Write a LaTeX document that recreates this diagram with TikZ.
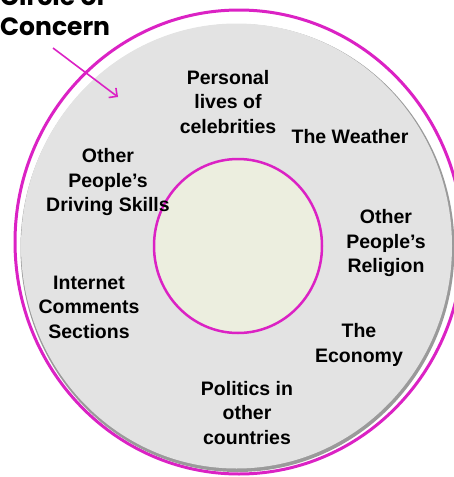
\documentclass[tikz,border=0pt]{standalone}
\usepackage{fontspec}
\setmainfont{Liberation Sans}
\newfontfamily\titlefont{Poppins}
\usetikzlibrary{arrows.meta}

\definecolor{ringpink}{HTML}{DB22C4}
\definecolor{diskgrey}{HTML}{E3E3E3}
\definecolor{diskedge}{HTML}{9A9A9A}
\definecolor{corefill}{HTML}{ECEEDF}

\begin{document}
\begin{tikzpicture}[
        x=1pt, y=-1pt,
        font=\fontsize{19.5}{24.5}\selectfont\bfseries
    ]
    \tikzset{
        topic/.style = {align=center, inner sep=0pt},
        heading/.style = {align=left, inner sep=0pt,
            font=\titlefont\fontsize{25}{30}\selectfont\bfseries},
        pointer/.style = {ringpink, line width=1.6pt,
            -{Straight Barb[length=6pt, width=12pt]}},
    }
    \useasboundingbox (0,0) rectangle (454,477);
    \clip (0,0) rectangle (454,477);
    % outer ring and the grey disk inside it
    \draw[ringpink, line width=3pt] (239,242) ellipse [x radius=224pt, y radius=232pt];
    \fill[diskedge] (237.5,248) ellipse [x radius=217pt, y radius=224pt];
    \fill[diskgrey] (236.5,246) ellipse [x radius=215.5pt, y radius=222.5pt];
    % circle of influence in the middle
    \draw[ringpink, line width=2.5pt, fill=corefill]
        (238,246) ellipse [x radius=84pt, y radius=87pt];
    %
    \node[topic] at (228,102) (celebs) {Personal\\lives of\\celebrities};
    \node[topic] at (350,137) (weather) {The Weather};
    \node[topic] at (108,182) (driving) {Other\\People's\\Driving Skills};
    \node[topic] at (386,243) (religion) {Other\\People's\\Religion};
    \node[topic] at (89,307) (comments) {Internet\\Comments\\Sections};
    \node[topic] at (359,345) (economy) {The\\Economy};
    \node[topic] at (247,413) (politics) {Politics in\\other\\countries};
    %
    \node[heading, anchor=base west] at (0,35) (concern) {Circle of\\Concern};
    \coordinate (tail) at (53,48);
    \coordinate (head) at (118,97);
    \draw[pointer] (tail) -- (head);
\end{tikzpicture}
\end{document}
